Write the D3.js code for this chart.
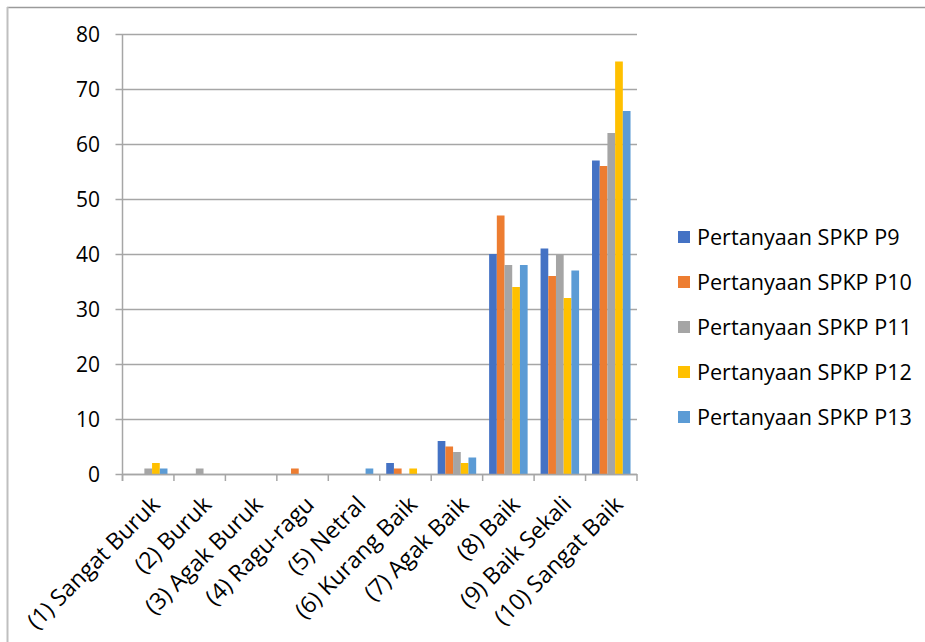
<!DOCTYPE html>
<html>
<head>
<meta charset="utf-8">
<script src="https://cdn.jsdelivr.net/npm/d3@7"></script>
<style>
  body { margin: 0; background: #fff; }
  text { font-family: "Open Sans", "Noto Sans", sans-serif; fill: #000; }
</style>
</head>
<body>
<div id="chart"></div>
<script>
// categories and series
var categories = ["(1) Sangat Buruk", "(2) Buruk", "(3) Agak Buruk", "(4) Ragu-ragu", "(5) Netral",
  "(6) Kurang Baik", "(7) Agak Baik", "(8) Baik", "(9) Baik Sekali", "(10) Sangat Baik"];
var seriesNames = ["Pertanyaan SPKP P9", "Pertanyaan SPKP P10", "Pertanyaan SPKP P11",
  "Pertanyaan SPKP P12", "Pertanyaan SPKP P13"];
var p9  = [0, 0, 0, 0, 0, 2, 6, 40, 41, 57];
var p10 = [0, 0, 0, 1, 0, 1, 5, 47, 36, 56];
var p11 = [1, 1, 0, 0, 0, 0, 4, 38, 40, 62];
var p12 = [2, 0, 0, 0, 0, 1, 2, 34, 32, 75];
var p13 = [1, 0, 0, 0, 1, 0, 3, 38, 37, 66];
var yTicks = [0, 10, 20, 30, 40, 50, 60, 70, 80];
var colors = ["#4472C4", "#ED7D31", "#A5A5A5", "#FFC000", "#5B9BD5"];

var series = [p9, p10, p11, p12, p13];

var width = 925, height = 642;
var svg = d3.select("#chart").append("svg")
  .attr("width", width)
  .attr("height", height);

// frame (only top and left edges show in the crop)
svg.append("line").attr("x1", 7).attr("x2", width).attr("y1", 7.5).attr("y2", 7.5)
  .attr("stroke", "#9a9a9a").attr("stroke-width", 1.5);
svg.append("line").attr("x1", 7.5).attr("x2", 7.5).attr("y1", 7).attr("y2", height)
  .attr("stroke", "#bfbfbf").attr("stroke-width", 2);

var plot = {left: 122.5, right: 637, top: 34, bottom: 474};

var x0 = d3.scaleBand().domain(categories).range([plot.left, plot.right]).paddingInner(0).paddingOuter(0);
// bars about 7.7px wide, centred in each category
var x1 = d3.scaleBand().domain(d3.range(series.length)).range([0, x0.bandwidth()])
  .paddingInner(0).paddingOuter(0.84);
var y = d3.scaleLinear().domain([0, 80]).range([plot.bottom, plot.top]);

// gridlines with outside tick marks
svg.append("g").selectAll("line").data(yTicks).enter().append("line")
  .attr("x1", plot.left - 7).attr("x2", plot.right)
  .attr("y1", function(d){ return Math.round(y(d)) + 0.5; })
  .attr("y2", function(d){ return Math.round(y(d)) + 0.5; })
  .attr("stroke", "#a6a6a6").attr("stroke-width", 1.5);

svg.append("g").selectAll("text").data(yTicks).enter().append("text")
  .attr("x", 100).attr("y", function(d){ return y(d); })
  .attr("dy", "0.36em")
  .attr("text-anchor", "end")
  .style("font-size", "21px")
  .text(function(d){ return d; });

// bars
var groups = svg.append("g").selectAll("g").data(categories).enter().append("g")
  .attr("transform", function(d){ return "translate(" + x0(d) + ",0)"; });

groups.selectAll("rect").data(function(d, i){
    return series.map(function(s, k){ return {k: k, v: s[i]}; });
  }).enter().append("rect")
  .attr("x", function(d){ return x1(d.k); })
  .attr("width", x1.bandwidth())
  .attr("y", function(d){ return y(d.v); })
  .attr("height", function(d){ return y(0) - y(d.v); })
  .attr("fill", function(d){ return colors[d.k]; });

// axes lines
svg.append("line").attr("x1", plot.left).attr("x2", plot.left)
  .attr("y1", plot.top).attr("y2", plot.bottom + 7)
  .attr("stroke", "#a6a6a6").attr("stroke-width", 1.5);
svg.append("line").attr("x1", plot.left).attr("x2", plot.right)
  .attr("y1", plot.bottom + 0.5).attr("y2", plot.bottom + 0.5)
  .attr("stroke", "#a6a6a6").attr("stroke-width", 1.5);

// category boundary ticks
var boundaries = categories.map(function(c){ return x0(c); }).concat([plot.right]);
svg.append("g").selectAll("line").data(boundaries).enter().append("line")
  .attr("x1", function(d){ return d; }).attr("x2", function(d){ return d; })
  .attr("y1", plot.bottom).attr("y2", plot.bottom + 7)
  .attr("stroke", "#a6a6a6").attr("stroke-width", 1.5);

// rotated category labels
svg.append("g").selectAll("text").data(categories).enter().append("text")
  .attr("text-anchor", "end")
  .style("font-size", "23px")
  .attr("transform", function(d){
    var cx = x0(d) + x0.bandwidth() / 2 + 13;
    return "translate(" + cx + "," + (plot.bottom + 32) + ") rotate(-45)";
  })
  .text(function(d){ return d; });

// legend
var legend = svg.append("g").selectAll("g").data(seriesNames).enter().append("g")
  .attr("transform", function(d, i){ return "translate(678," + (237 + i * 45) + ")"; });
legend.append("rect")
  .attr("x", 0).attr("y", -6).attr("width", 12).attr("height", 12)
  .attr("fill", function(d, i){ return colors[i]; });
legend.append("text")
  .attr("x", 19).attr("dy", "0.36em")
  .style("font-size", "21.6px")
  .text(function(d){ return d; });
</script>
</body>
</html>
